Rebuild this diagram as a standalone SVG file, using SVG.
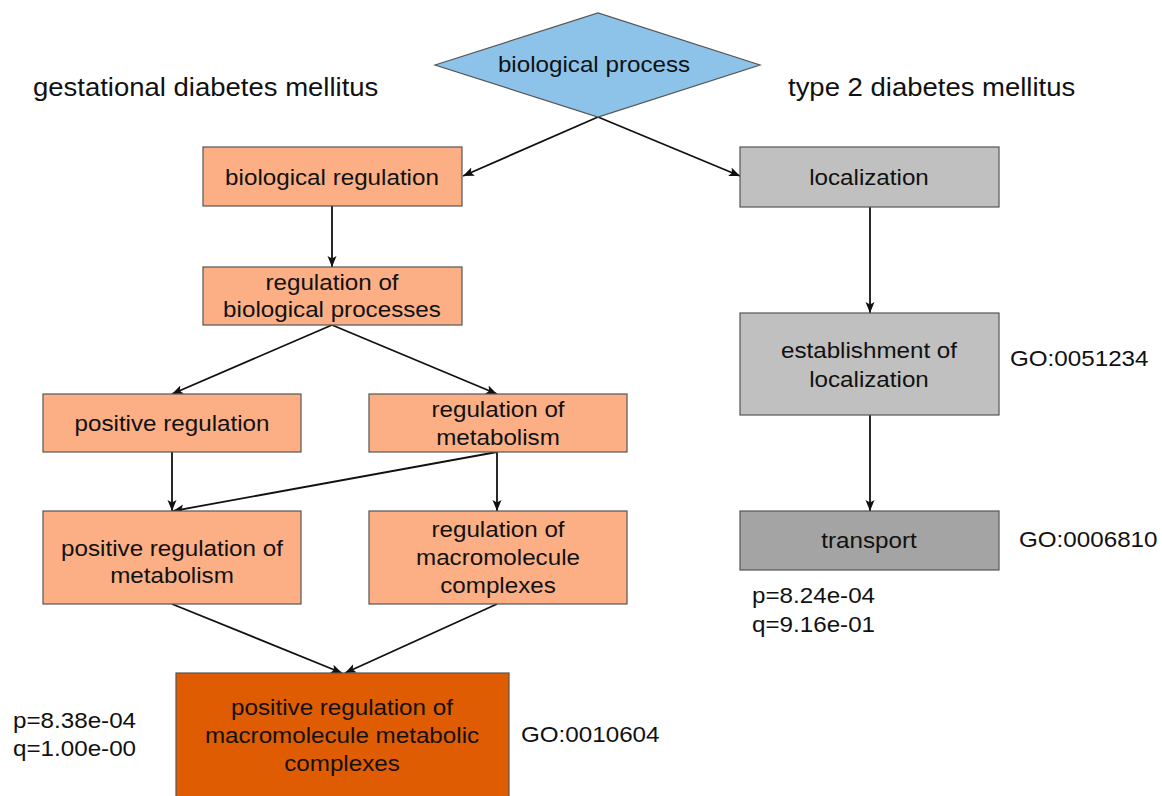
<svg xmlns="http://www.w3.org/2000/svg" width="1162" height="796" viewBox="0 0 1162 796">
<style>
  text { font-family: "Liberation Sans", Arial, sans-serif; fill: #111; }
  .c { text-anchor: middle; font-size: 22px; }
  .l { text-anchor: start; font-size: 22px; }
  .title { text-anchor: start; font-size: 25px; }
  .orange { fill: #FCAF84; stroke: #555; stroke-width: 1.2; }
  .dark { fill: #E05C03; stroke: #555; stroke-width: 1.2; }
  .grey { fill: #C0C0C0; stroke: #555; stroke-width: 1.2; }
  .grey2 { fill: #A4A4A4; stroke: #555; stroke-width: 1.2; }
  .blue { fill: #8DC3E9; stroke: #555; stroke-width: 1.2; }
  .edge { stroke: #111; stroke-width: 1.8; fill: none; marker-end: url(#arr); }
</style>
<defs>
  <marker id="arr" markerUnits="userSpaceOnUse" markerWidth="12" markerHeight="10" refX="11" refY="5" orient="auto">
    <path d="M0,0.5 L11,5 L0,9.5 L2.5,5 Z" fill="#111"/>
  </marker>
</defs>
<rect width="1162" height="796" fill="#fff"/>

<text class="title" x="33" y="96" transform="translate(33 0) scale(1.1 1) translate(-33 0)">gestational diabetes mellitus</text>
<text class="title" x="788" y="96" transform="translate(788 0) scale(1.1 1) translate(-788 0)">type 2 diabetes mellitus</text>

<g id="connectors">
  <line class="edge" x1="598" y1="117" x2="463" y2="176"/>
  <line class="edge" x1="598" y1="117" x2="740" y2="176"/>
  <line class="edge" x1="332" y1="206" x2="332" y2="267"/>
  <line class="edge" x1="332" y1="325" x2="172" y2="394"/>
  <line class="edge" x1="332" y1="325" x2="497" y2="394"/>
  <line class="edge" x1="172" y1="452" x2="172" y2="511"/>
  <line class="edge" x1="497" y1="452" x2="497" y2="511"/>
  <line class="edge" x1="497" y1="452" x2="173" y2="511"/>
  <line class="edge" x1="172" y1="604" x2="342" y2="673"/>
  <line class="edge" x1="497" y1="604" x2="345" y2="673"/>
  <line class="edge" x1="870" y1="207" x2="870" y2="313"/>
  <line class="edge" x1="870" y1="415" x2="870" y2="511"/>
</g>

<g id="biological-process">
  <polygon class="blue" points="435,65 598,13 760,65 598,117"/>
  <text class="c" transform="translate(594 72) scale(1.1 1)">biological process</text>
</g>

<g id="biological-regulation">
  <rect class="orange" x="203" y="147" width="259" height="59"/>
  <text class="c" transform="translate(332 185) scale(1.1 1)">biological regulation</text>
</g>

<g id="regulation-of-biological-processes">
  <rect class="orange" x="203" y="267" width="259" height="58"/>
  <text class="c" transform="translate(332 290) scale(1.1 1)"><tspan x="0" y="0">regulation of</tspan><tspan x="0" y="27">biological processes</tspan></text>
</g>

<g id="positive-regulation">
  <rect class="orange" x="43" y="394" width="258" height="58"/>
  <text class="c" transform="translate(172 431) scale(1.1 1)">positive regulation</text>
</g>

<g id="regulation-of-metabolism">
  <rect class="orange" x="369" y="394" width="258" height="58"/>
  <text class="c" transform="translate(498 417) scale(1.1 1)"><tspan x="0" y="0">regulation of</tspan><tspan x="0" y="28">metabolism</tspan></text>
</g>

<g id="positive-regulation-of-metabolism">
  <rect class="orange" x="43" y="511" width="258" height="93"/>
  <text class="c" transform="translate(172 556) scale(1.1 1)"><tspan x="0" y="0">positive regulation of</tspan><tspan x="0" y="27">metabolism</tspan></text>
</g>

<g id="regulation-of-macromolecule-complexes">
  <rect class="orange" x="369" y="511" width="258" height="93"/>
  <text class="c" transform="translate(498 537) scale(1.1 1)"><tspan x="0" y="0">regulation of</tspan><tspan x="0" y="28">macromolecule</tspan><tspan x="0" y="56">complexes</tspan></text>
</g>

<g id="positive-regulation-of-macromolecule-metabolic-complexes">
  <rect class="dark" x="176" y="673" width="333" height="130"/>
  <text class="c" transform="translate(342 715) scale(1.1 1)"><tspan x="0" y="0">positive regulation of</tspan><tspan x="0" y="28">macromolecule metabolic</tspan><tspan x="0" y="56">complexes</tspan></text>
  <text class="l" transform="translate(13 728) scale(1.1 1)"><tspan x="0" y="0">p=8.38e-04</tspan><tspan x="0" y="28">q=1.00e-00</tspan></text>
  <text class="l" transform="translate(521 742) scale(1.1 1)">GO:0010604</text>
</g>

<g id="localization">
  <rect class="grey" x="740" y="147" width="259" height="60"/>
  <text class="c" transform="translate(869 185) scale(1.1 1)">localization</text>
</g>

<g id="establishment-of-localization">
  <rect class="grey" x="740" y="313" width="259" height="102"/>
  <text class="c" transform="translate(869 358) scale(1.1 1)"><tspan x="0" y="0">establishment of</tspan><tspan x="0" y="29">localization</tspan></text>
  <text class="l" transform="translate(1010 366) scale(1.1 1)">GO:0051234</text>
</g>

<g id="transport">
  <rect class="grey2" x="740" y="511" width="259" height="59"/>
  <text class="c" transform="translate(869 548) scale(1.1 1)">transport</text>
  <text class="l" transform="translate(1019 547) scale(1.1 1)">GO:0006810</text>
  <text class="l" transform="translate(752 603) scale(1.1 1)"><tspan x="0" y="0">p=8.24e-04</tspan><tspan x="0" y="29">q=9.16e-01</tspan></text>
</g>
</svg>
